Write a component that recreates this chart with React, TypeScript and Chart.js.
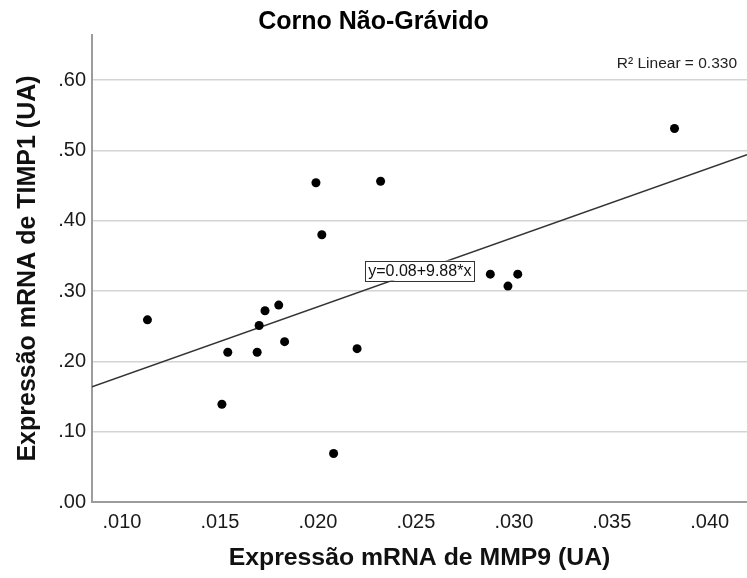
import React, { useEffect, useRef } from 'react';
import { Chart, registerables } from 'chart.js';

Chart.register(...registerables);

// ---- data ----
const mmp9 = [0.0113, 0.0151, 0.0154, 0.0169, 0.0170, 0.0173, 0.0180, 0.0183, 0.0199, 0.0202, 0.0208, 0.0220, 0.0232, 0.0288, 0.0297, 0.0302, 0.0382];
const timp1 = [0.259, 0.139, 0.213, 0.213, 0.251, 0.272, 0.280, 0.228, 0.454, 0.380, 0.069, 0.218, 0.456, 0.324, 0.307, 0.324, 0.531];

const xTicks = [0.010, 0.015, 0.020, 0.025, 0.030, 0.035, 0.040];
const yTicks = [0.0, 0.1, 0.2, 0.3, 0.4, 0.5, 0.6];
const xRange = [0.00847, 0.0419];
const yRange = [0, 0.664];

const fitIntercept = 0.08;
const fitSlope = 9.88;
const r2Value = 0.330;
const eqLabelX = 0.0252;

const chartTitle = 'Corno Não-Grávido';
const xTitle = 'Expressão mRNA de MMP9 (UA)';
const yTitle = 'Expressão mRNA de TIMP1 (UA)';

const FONT = "'Liberation Sans', Arial, Helvetica, sans-serif";

const fmt = (v: number, d: number) => v.toFixed(d).replace(/^0(?=\.)/, '');

const annotationPlugin = {
  id: 'fitAnnotations',
  afterDatasetsDraw(chart: any) {
    const { ctx, chartArea, scales } = chart;
    const xs = scales.x;
    const ys = scales.y;
    ctx.save();
    // equation box
    const label = `y=${fitIntercept.toFixed(2)}+${fitSlope.toFixed(2)}*x`;
    ctx.font = `16px ${FONT}`;
    const tw = ctx.measureText(label).width;
    const cx = xs.getPixelForValue(eqLabelX);
    const cy = ys.getPixelForValue(fitIntercept + fitSlope * eqLabelX);
    const bw = tw + 6;
    const bh = 20;
    ctx.fillStyle = '#ffffff';
    ctx.fillRect(cx - bw / 2, cy - bh / 2, bw, bh);
    ctx.strokeStyle = '#333333';
    ctx.lineWidth = 1;
    ctx.strokeRect(Math.round(cx - bw / 2) + 0.5, Math.round(cy - bh / 2) + 0.5, Math.round(bw), bh);
    ctx.fillStyle = '#111111';
    ctx.textAlign = 'center';
    ctx.textBaseline = 'middle';
    ctx.fillText(label, cx, cy + 1);
    // R² label
    ctx.font = `15.5px ${FONT}`;
    ctx.textAlign = 'right';
    ctx.fillStyle = '#222222';
    ctx.fillText(`R² Linear = ${r2Value.toFixed(3)}`, chartArea.right - 10, chartArea.top + 29);
    ctx.restore();
  },
};

export default function App() {
  const ref = useRef<HTMLCanvasElement | null>(null);

  useEffect(() => {
    if (!ref.current) return;
    const points = mmp9.map((x, i) => ({ x, y: timp1[i] }));
    const fitLine = xRange.map((x) => ({ x, y: fitIntercept + fitSlope * x }));

    const chart = new Chart(ref.current, {
      type: 'scatter',
      data: {
        datasets: [
          {
            data: points,
            backgroundColor: '#000000',
            borderColor: '#000000',
            borderWidth: 0,
            pointRadius: 4.5,
            pointHoverRadius: 4.5,
          },
          {
            data: fitLine,
            showLine: true,
            borderColor: '#333333',
            borderWidth: 1.5,
            pointRadius: 0,
            fill: false,
          } as any,
        ],
      },
      options: {
        animation: false,
        responsive: true,
        maintainAspectRatio: false,
        layout: { padding: 0, autoPadding: false },
        plugins: {
          legend: { display: false },
          tooltip: { enabled: false },
          title: {
            display: true,
            text: chartTitle,
            color: '#000000',
            font: { family: FONT, size: 25, weight: 'bold', lineHeight: 1.0 },
            padding: { top: 10, bottom: 0 },
          },
        },
        scales: {
          x: {
            type: 'linear',
            min: xRange[0],
            max: xRange[1],
            afterBuildTicks: (s: any) => {
              s.ticks = xTicks.map((v) => ({ value: v }));
            },
            afterFit: (s: any) => {
              s.height = 76;
              s.paddingLeft = 0;
              s.paddingRight = 0;
            },
            grid: { display: false, drawTicks: false },
            border: { display: true, color: '#9c9c9c', width: 2 },
            ticks: {
              color: '#1a1a1a',
              font: { family: FONT, size: 20 },
              padding: 8,
              maxRotation: 0,
              autoSkip: false,
              callback: (v: any) => fmt(Number(v), 3),
            },
            title: {
              display: true,
              text: xTitle,
              color: '#111111',
              font: { family: FONT, size: 24.8, weight: 'bold' },
              padding: { top: 0, bottom: 5 },
            },
          },
          y: {
            type: 'linear',
            min: yRange[0],
            max: yRange[1],
            afterBuildTicks: (s: any) => {
              s.ticks = yTicks.map((v) => ({ value: v }));
            },
            afterFit: (s: any) => {
              s.width = 92;
              s.paddingTop = 0;
              s.paddingBottom = 0;
            },
            grid: { display: true, color: '#d4d4d4', lineWidth: 1.5, drawTicks: false },
            border: { display: true, color: '#9c9c9c', width: 2 },
            ticks: {
              color: '#1a1a1a',
              font: { family: FONT, size: 20 },
              padding: 6,
              autoSkip: false,
              callback: (v: any) => fmt(Number(v), 2),
            },
            title: {
              display: true,
              text: yTitle,
              color: '#111111',
              font: { family: FONT, size: 25, weight: 'bold' },
              padding: { top: 13, bottom: 0 },
            },
          },
        },
      },
      plugins: [annotationPlugin],
    } as any);

    return () => chart.destroy();
  }, []);

  return (
    <div style={{ position: 'absolute', left: 0, top: 0, width: 747, height: 578, overflow: 'hidden', background: '#ffffff' }}>
      <canvas ref={ref} style={{ display: 'block' }} />
    </div>
  );
}
